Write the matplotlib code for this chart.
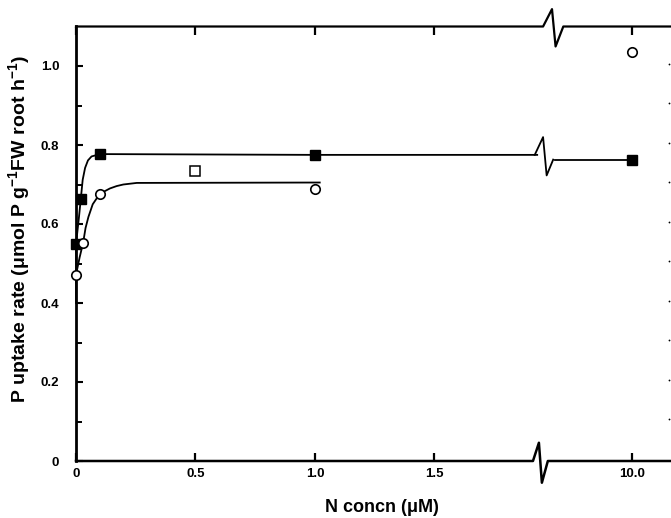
import numpy as np
import matplotlib
matplotlib.use('Agg')
import matplotlib.pyplot as plt
import matplotlib.transforms as mtransforms

plt.rcParams['font.family'] = ['Liberation Sans', 'DejaVu Sans']
plt.rcParams['font.weight'] = 'bold'
plt.rcParams['mathtext.fontset'] = 'custom'
plt.rcParams['mathtext.rm'] = 'Liberation Sans:bold'
plt.rcParams['mathtext.bf'] = 'Liberation Sans:bold'
plt.rcParams['mathtext.default'] = 'bf'

# measured points (N concn in uM, P uptake rate)
filled_x = [0.0, 0.02, 0.1, 1.0, 10.0]
filled_y = [0.549, 0.663, 0.777, 0.775, 0.763]
open_x = [0.0, 0.03, 0.1, 1.0, 10.0]
open_y = [0.471, 0.553, 0.675, 0.689, 1.036]
osq_x = [0.5]
osq_y = [0.735]

# fitted curves
fcurve_x = [0.0, 0.0, 0.012, 0.02, 0.028, 0.038, 0.05, 0.065, 0.1, 1.0, 1.93]
fcurve_y = [0.45, 0.549, 0.615, 0.663, 0.712, 0.742, 0.761, 0.771, 0.777,
            0.775, 0.775]
fcurve2_x = [3.1, 10.0]
fcurve2_y = [0.763, 0.763]
ocurve_x = [0.0, 0.0, 0.015, 0.03, 0.04, 0.052, 0.07, 0.098, 0.12, 0.142,
            0.17, 0.198, 0.254, 1.02]
ocurve_y = [0.40, 0.471, 0.515, 0.553, 0.590, 0.618, 0.650, 0.675, 0.683,
            0.690, 0.696, 0.700, 0.704, 0.705]

xticks = [0, 0.5, 1.0, 1.5, 10.0]
xticklabels = ['0', '0.5', '1.0', '1.5', '10.0']
yticks = [0, 0.2, 0.4, 0.6, 0.8, 1.0]
yticklabels = ['0', '0.2', '0.4', '0.6', '0.8', '1.0']
yminor = [0.1, 0.3, 0.5, 0.7, 0.9]
# ticks of the neighbouring panel, cut off at the right edge
edge_y = [0.106, 0.206, 0.306, 0.406, 0.506, 0.606, 0.706, 0.806, 0.906, 1.006]

# broken x axis: linear up to BRK, compressed after
BRK = 1.95
K = (2.326 - BRK) / (10.0 - BRK)


def fwd(x):
    x = np.asarray(x, dtype=float)
    return np.where(x <= BRK, x, BRK + (x - BRK) * K)


def inv(y):
    y = np.asarray(y, dtype=float)
    return np.where(y <= BRK, y, BRK + (y - BRK) / K)


fig = plt.figure(figsize=(6.71, 5.18), dpi=100)
ax = fig.add_axes([76 / 671, 57 / 518, 595 / 671, 434.5 / 518])
ax.set_xscale('function', functions=(fwd, inv))
ax.set_xlim(0, float(inv(2.49)))
ax.set_ylim(0, 1.1)

lw = 1.3
ax.plot(fcurve_x, fcurve_y, color='black', lw=lw, clip_on=False)
ax.plot(fcurve2_x, fcurve2_y, color='black', lw=lw, clip_on=False)
ax.plot(ocurve_x, ocurve_y, color='black', lw=lw, clip_on=False)
ax.plot(filled_x, filled_y, ls='none', marker='s', ms=7.2, color='black',
        clip_on=False, zorder=5)
ax.plot(open_x, open_y, ls='none', marker='o', ms=6.8, mfc='white',
        mec='black', mew=1.2, clip_on=False, zorder=5)
ax.plot(osq_x, osq_y, ls='none', marker='s', ms=6.5, mfc='white',
        mec='black', mew=1.1, clip_on=False, zorder=5)

# zigzag on the filled-square line
bt = mtransforms.blended_transform_factory(ax.transAxes, ax.transData)
ax.plot([0.771, 0.785, 0.791, 0.802], [0.775, 0.820, 0.723, 0.763],
        color='black', lw=lw, transform=bt, clip_on=False)
ax.plot([0.9966] * len(edge_y), edge_y, ls='none', marker='o', ms=1.3,
        mew=0, color='black', transform=bt, clip_on=False)

# spines with break marks
for s in ['top', 'bottom', 'right']:
    ax.spines[s].set_visible(False)
ax.spines['left'].set_linewidth(2.0)
ax.plot([0, 0.785, 0.800, 0.806, 0.819, 1.0], [1, 1, 1.040, 0.954, 1, 1],
        color='black', lw=1.6, transform=ax.transAxes, clip_on=False)
ax.plot([0, 0.768, 0.778, 0.783, 0.793, 1.0], [0, 0, 0.042, -0.050, 0, 0],
        color='black', lw=1.8, transform=ax.transAxes, clip_on=False)

ax.set_xticks(xticks)
ax.set_xticklabels(xticklabels)
ax.set_yticks(yticks)
ax.set_yticklabels(yticklabels)
ax.set_yticks(yminor, minor=True)
ax.xaxis.set_minor_locator(matplotlib.ticker.NullLocator())
ax.xaxis.set_tick_params(which='major', direction='in', top=True, bottom=True,
                         length=6, width=1.6, labelsize=9.5, pad=5)
ax.tick_params(axis='y', which='major', direction='in', length=5, width=1.5,
               labelsize=9.5, pad=12)
ax.tick_params(axis='y', which='minor', direction='in', length=4.5, width=1.4)

fig.text(19 / 671, 1 - 229 / 518,
         r'P uptake rate ($\mu$mol P g$^{-1}$FW root h$^{-1}$)',
         rotation=90, ha='center', va='center', fontsize=14, fontweight='bold')
fig.text(382 / 671, 1 - 508 / 518, r'N concn ($\mu$M)', ha='center',
         va='center', fontsize=13, fontweight='bold')

fig.savefig('out.png', dpi=100)
